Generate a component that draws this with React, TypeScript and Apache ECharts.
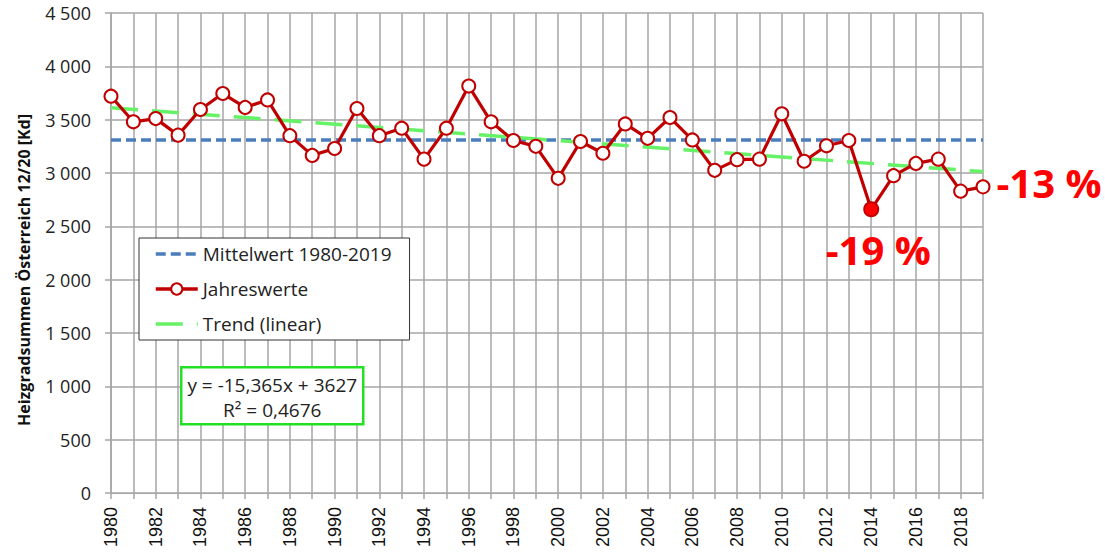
import React, { useEffect, useRef } from "react";
import * as echarts from "echarts";

const years = [
  "1980", "1981", "1982", "1983", "1984", "1985", "1986", "1987", "1988", "1989",
  "1990", "1991", "1992", "1993", "1994", "1995", "1996", "1997", "1998", "1999",
  "2000", "2001", "2002", "2003", "2004", "2005", "2006", "2007", "2008", "2009",
  "2010", "2011", "2012", "2013", "2014", "2015", "2016", "2017", "2018", "2019",
];

const jahreswerte = [
  3720, 3480, 3510, 3355, 3595, 3745, 3615, 3685, 3350, 3165,
  3230, 3605, 3350, 3420, 3130, 3420, 3815, 3480, 3305, 3250,
  2950, 3295, 3185, 3460, 3325, 3520, 3310, 3025, 3125, 3130,
  3555, 3110, 3255, 3305, 2660, 2975, 3090, 3130, 2830, 2870,
];

const meanValue = 3310;
const trendStartValue = 3612;
const trendEndValue = 3013;

const annotationYears = ["2014", "2019"];
const annotationTexts = ["-19 %", "-13 %"];

const equationLines = ["y = -15,365x + 3627", "R² = 0,4676"];

const seriesNames = ["Mittelwert 1980-2019", "Jahreswerte", "Trend (linear)"];

const RED = "#c00000";
const BLUE = "#4a7ebb";
const GREEN = "#66f266";
const GRID = "#a6a6a6";
const FONT = "'Open Sans', 'Noto Sans', sans-serif";

function fmt(v: number): string {
  if (v >= 1000) {
    const th = Math.floor(v / 1000);
    const rest = String(v % 1000).padStart(3, "0");
    return th + " " + rest;
  }
  return String(v);
}

export default function App() {
  const ref = useRef<HTMLDivElement>(null);

  useEffect(() => {
    if (!ref.current) return;
    const chart = echarts.init(ref.current, null, { renderer: "svg" });

    const labelBase = {
      show: true,
      color: "#ff0000",
      fontSize: 40,
      lineHeight: 40,
      fontWeight: "bold",
      fontFamily: FONT,
    };

    const yearlyData = jahreswerte.map((v, i) => {
      const ai = annotationYears.indexOf(years[i]);
      if (ai === 0) {
        return {
          value: v,
          symbol: "circle",
          symbolSize: 14,
          itemStyle: { color: "#ff0000", borderColor: RED, borderWidth: 2 },
          label: {
            ...labelBase,
            formatter: annotationTexts[ai],
            position: "bottom",
            distance: 12,
            offset: [7, 0],
          },
        };
      }
      if (ai === 1) {
        return {
          value: v,
          label: {
            ...labelBase,
            formatter: annotationTexts[ai],
            position: "right",
            distance: 6,
            offset: [0, -4],
          },
        };
      }
      return v;
    });

    const hiddenSymbol = { color: "rgba(0,0,0,0)", borderWidth: 0, opacity: 0 };

    chart.setOption({
      animation: false,
      backgroundColor: "#ffffff",
      grid: { left: 111, right: 122, top: 13, bottom: 61, containLabel: false },
      legend: {
        data: [
          { name: seriesNames[0], itemStyle: hiddenSymbol, lineStyle: { width: 3.5 } },
          { name: seriesNames[1], lineStyle: { width: 3.5 } },
          { name: seriesNames[2], itemStyle: hiddenSymbol, lineStyle: { width: 3.5 } },
        ],
        orient: "vertical",
        left: 139,
        top: 238,
        z: 10,
        backgroundColor: "#ffffff",
        borderColor: "#333333",
        borderWidth: 1,
        borderRadius: 0,
        padding: [5, 18, 5, 15],
        itemGap: 13,
        itemWidth: 42,
        itemHeight: 14,
        selectedMode: false,
        textStyle: {
          fontFamily: FONT,
          fontSize: 19,
          lineHeight: 22,
          color: "#222222",
        },
      },
      xAxis: {
        type: "category",
        data: years,
        boundaryGap: false,
        axisLine: { show: true, lineStyle: { color: GRID, width: 1 } },
        axisTick: {
          show: true,
          interval: 0,
          length: 6,
          lineStyle: { color: GRID, width: 1.5 },
        },
        axisLabel: {
          interval: 1,
          rotate: 90,
          margin: 14,
          fontSize: 18,
          fontFamily: "'Liberation Sans', Arial, sans-serif",
          color: "#111111",
        },
        splitLine: {
          show: true,
          interval: 0,
          lineStyle: { color: GRID, width: 1.5 },
        },
      },
      yAxis: {
        type: "value",
        min: 0,
        max: 4500,
        interval: 500,
        axisLine: { show: true, lineStyle: { color: GRID, width: 1.5 } },
        axisTick: { show: true, length: 6, lineStyle: { color: GRID, width: 1.5 } },
        axisLabel: {
          margin: 20,
          fontSize: 18,
          fontFamily: FONT,
          color: "#222222",
          formatter: (v: number) => fmt(v),
        },
        splitLine: { show: true, lineStyle: { color: GRID, width: 1.5 } },
      },
      series: [
        {
          name: seriesNames[0],
          type: "line",
          data: [
            [years[0], meanValue],
            [years[years.length - 1], meanValue],
          ],
          symbol: "none",
          lineStyle: { color: BLUE, width: 3.5, type: [10, 5] },
          itemStyle: { color: BLUE },
          z: 2,
        },
        {
          name: seriesNames[2],
          type: "line",
          data: [
            [years[0], trendStartValue],
            [years[years.length - 1], trendEndValue],
          ],
          symbol: "none",
          lineStyle: { color: GREEN, width: 3.5, type: [27, 14] },
          itemStyle: { color: GREEN },
          z: 3,
        },
        {
          name: seriesNames[1],
          type: "line",
          data: yearlyData,
          symbol: "circle",
          symbolSize: 13,
          showAllSymbol: true,
          lineStyle: { color: RED, width: 3.2 },
          itemStyle: { color: "#ffffff", borderColor: RED, borderWidth: 2 },
          z: 4,
        },
      ],
      graphic: [
        {
          type: "text",
          x: 24,
          y: 270,
          rotation: Math.PI / 2,
          z: 100,
          style: {
            text: "Heizgradsummen Österreich 12/20 [Kd]",
            fontFamily: FONT,
            fontSize: 16,
            fontWeight: "bold",
            fill: "#111111",
            align: "center",
            verticalAlign: "middle",
          },
        },
        {
          type: "group",
          left: 180,
          top: 366,
          z: 100,
          children: [
            {
              type: "rect",
              z: 100,
              shape: { x: 0, y: 0, width: 182, height: 57 },
              style: { fill: "#ffffff", stroke: "#22e022", lineWidth: 2.5 },
            },
            {
              type: "text",
              z: 101,
              x: 91,
              y: 18,
              style: {
                text: equationLines[0],
                fontFamily: FONT,
                fontSize: 19,
                fill: "#222222",
                align: "center",
                verticalAlign: "middle",
              },
            },
            {
              type: "text",
              z: 101,
              x: 91,
              y: 43,
              style: {
                text: equationLines[1],
                fontFamily: FONT,
                fontSize: 19,
                fill: "#222222",
                align: "center",
                verticalAlign: "middle",
              },
            },
          ],
        },
      ],
    });

    return () => chart.dispose();
  }, []);

  return (
    <div
      ref={ref}
      style={{ position: "fixed", left: 0, top: 0, width: 1105, height: 554 }}
    />
  );
}
